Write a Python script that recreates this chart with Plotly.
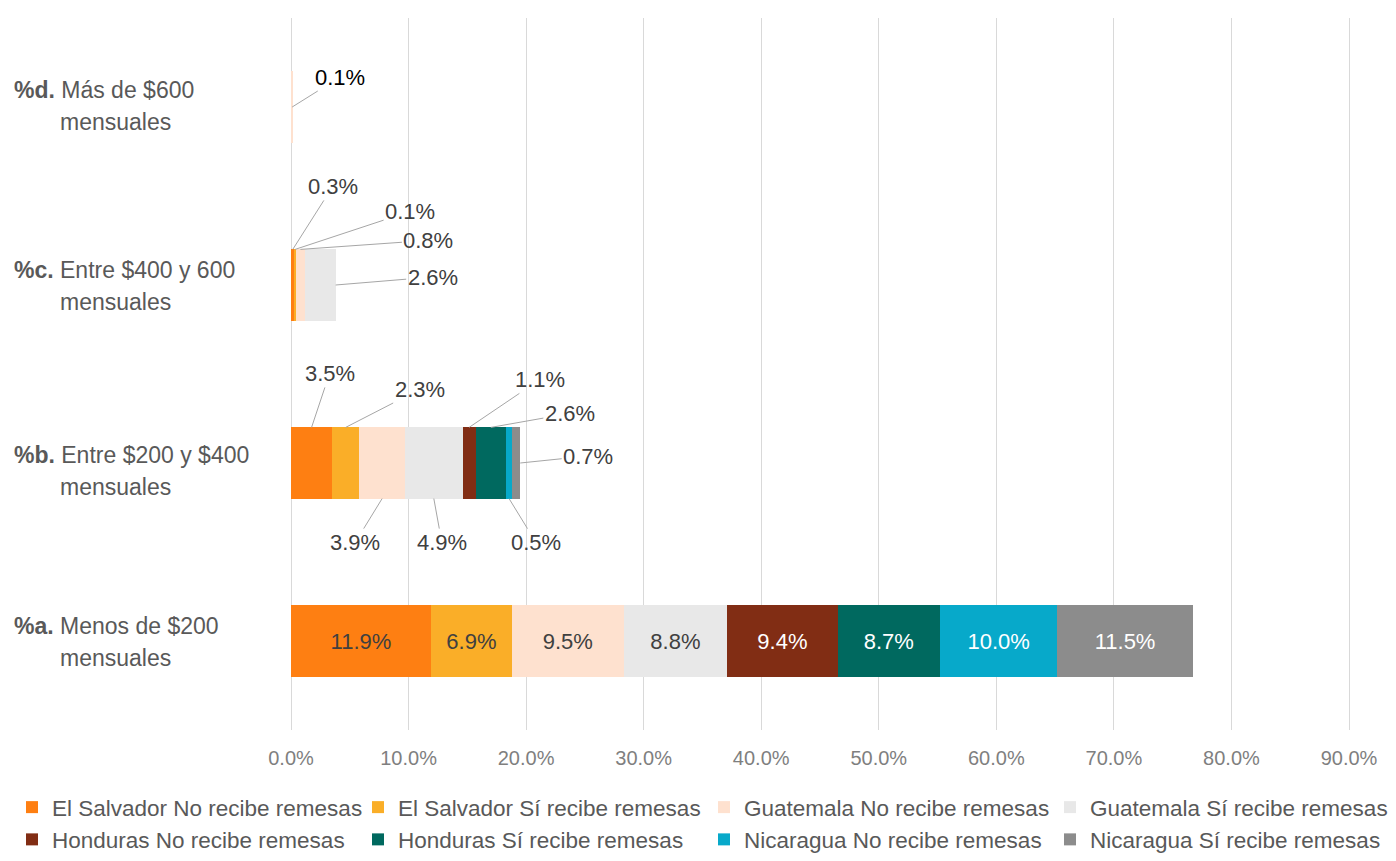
import numpy as np
import plotly.graph_objects as go

# ---------------- data ----------------
CAT_PREFIX = ["%a.", "%b.", "%c.", "%d."]
CAT_TEXT = ["Menos de $200", "Entre $200 y $400", "Entre $400 y 600", "Más de $600"]
CAT_SUFFIX = "mensuales"
CATEGORIES = [f"{p} {t} {CAT_SUFFIX}" for p, t in zip(CAT_PREFIX, CAT_TEXT)]

SERIES = [
    "El Salvador No recibe remesas",
    "El Salvador Sí recibe remesas",
    "Guatemala No recibe remesas",
    "Guatemala Sí recibe remesas",
    "Honduras No recibe remesas",
    "Honduras Sí recibe remesas",
    "Nicaragua No recibe remesas",
    "Nicaragua Sí recibe remesas",
]
# values in percent, order: a, b, c, d
ES_NO = [11.9, 3.5, 0.3, 0.0]
ES_SI = [6.9, 2.3, 0.1, 0.0]
GT_NO = [9.5, 3.9, 0.8, 0.1]
GT_SI = [8.8, 4.9, 2.6, 0.0]
HN_NO = [9.4, 1.1, 0.0, 0.0]
HN_SI = [8.7, 2.6, 0.0, 0.0]
NI_NO = [10.0, 0.5, 0.0, 0.0]
NI_SI = [11.5, 0.7, 0.0, 0.0]
VALUES = [ES_NO, ES_SI, GT_NO, GT_SI, HN_NO, HN_SI, NI_NO, NI_SI]

X_TICKS = [0, 10, 20, 30, 40, 50, 60, 70, 80, 90]
X_TICKTEXT = [f"{v:.1f}%" for v in X_TICKS]

# ---------------- style ----------------
COLORS = ["#FE7F12", "#FAAE28", "#FEE1CF", "#E8E8E8",
          "#812D14", "#00695F", "#07A9CA", "#8C8C8C"]
INSIDE_TEXT_COLORS = ["#404040", "#404040", "#404040", "#404040",
                      "#FFFFFF", "#FFFFFF", "#FFFFFF", "#FFFFFF"]
FONT = "Liberation Sans, Arial, sans-serif"

# the page body adds an 8px offset, so the figure is 8px smaller than the window
W, H = 1388, 853
ML, MR, MT, MB = 283, 2, 10, 131
PLOT_W = W - ML - MR
PLOT_H = H - MT - MB
AXIS_END_PX = 1058  # pixel length of 0..90%
XMAX = X_TICKS[-1] * PLOT_W / AXIS_END_PX

fig = go.Figure()
for i, (name, vals) in enumerate(zip(SERIES, VALUES)):
    texts = [f"{v:.1f}%" if j == 0 else "" for j, v in enumerate(vals)]
    fig.add_trace(go.Bar(
        name=name, orientation="h", y=CATEGORIES, x=vals,
        marker=dict(color=COLORS[i], line=dict(width=0)),
        text=texts, textposition="inside", insidetextanchor="middle",
        textfont=dict(family=FONT, size=22, color=INSIDE_TEXT_COLORS[i]),
        constraintext="none", cliponaxis=False, hoverinfo="skip",
    ))

# stacked positions computed from data
vals_arr = np.array(VALUES)            # series x category
ends = np.cumsum(vals_arr, axis=0)
starts = ends - vals_arr

BAR_HALF = 0.2  # half bar thickness in category units (bargap 0.6)

# callout labels: (category index, series index, anchor, dx px, dy px)
CALLOUTS = [
    (2, 0, "top", 40, -63),
    (2, 1, "top", 115, -38),
    (2, 2, "top", 128, -9),
    (2, 3, "right", 97, -8),
    (1, 0, "top", 18, -54),
    (1, 1, "top", 74, -38),
    (1, 4, "top", 71, -48),
    (1, 5, "top", 79, -14),
    (1, 7, "right", 68, -7),
    (1, 2, "bottom", -27, 44),
    (1, 3, "bottom", 8, 44),
    (1, 6, "bottom", 27, 44),
    (3, 2, "right", 48, -30),
]
annotations = []
for c, s, anchor, dx, dy in CALLOUTS:
    v = vals_arr[s, c]
    if anchor == "top":
        ax_x, ax_y = (starts[s, c] + ends[s, c]) / 2, c + BAR_HALF
    elif anchor == "bottom":
        ax_x, ax_y = (starts[s, c] + ends[s, c]) / 2, c - BAR_HALF
    else:
        ax_x, ax_y = ends[s, c], c
    annotations.append(dict(
        x=ax_x, y=ax_y, xref="x", yref="y", text=f"{v:.1f}%",
        showarrow=True, arrowhead=0, arrowwidth=1, arrowcolor="#A6A6A6",
        ax=dx, ay=dy, standoff=0,
        font=dict(family=FONT, size=22, color="#000000" if c == 3 else "#404040"),
    ))

# category labels (two lines, hanging indent); small per-category vertical nudges
LABEL_NUDGE = [0, -7, 0, 2]
for c, (p, t) in enumerate(zip(CAT_PREFIX, CAT_TEXT)):
    annotations.append(dict(
        x=0, y=c, xref="paper", yref="y", xanchor="left", yanchor="middle",
        xshift=-279, yshift=15 + LABEL_NUDGE[c], showarrow=False,
        text=f"<b>{p}</b> {t}",
        font=dict(family=FONT, size=23, color="#595959"),
    ))
    annotations.append(dict(
        x=0, y=c, xref="paper", yref="y", xanchor="left", yanchor="middle",
        xshift=-233, yshift=-17 + LABEL_NUDGE[c], showarrow=False,
        text=CAT_SUFFIX,
        font=dict(family=FONT, size=23, color="#595959"),
    ))

fig.update_layout(
    width=W, height=H,
    margin=dict(l=ML, r=MR, t=MT, b=MB, pad=0, autoexpand=False),
    barmode="stack", bargap=0.6,
    plot_bgcolor="white", paper_bgcolor="white",
    annotations=annotations,
    showlegend=True,
    legend=dict(
        orientation="h", traceorder="normal",
        x=(4 - ML) / PLOT_W, xanchor="left",
        y=-56 / PLOT_H, yanchor="top",
        entrywidth=301, entrywidthmode="pixels",
        font=dict(family=FONT, size=22.5, color="#595959"),
        bgcolor="rgba(0,0,0,0)", borderwidth=0,
    ),
    xaxis=dict(
        range=[0, XMAX], tickvals=X_TICKS, ticktext=X_TICKTEXT,
        showgrid=True, gridcolor="#D9D9D9", gridwidth=1,
        zeroline=True, zerolinecolor="#D9D9D9", zerolinewidth=1,
        showline=False, ticks="", ticklabelstandoff=14,
        tickfont=dict(family=FONT, size=20, color="#7F7F7F"),
        fixedrange=True,
    ),
    yaxis=dict(
        categoryorder="array", categoryarray=CATEGORIES,
        range=[-0.5, 3.5], showticklabels=False, showgrid=False,
        zeroline=False, showline=False, ticks="", fixedrange=True,
    ),
)

fig.write_html("out.html")
